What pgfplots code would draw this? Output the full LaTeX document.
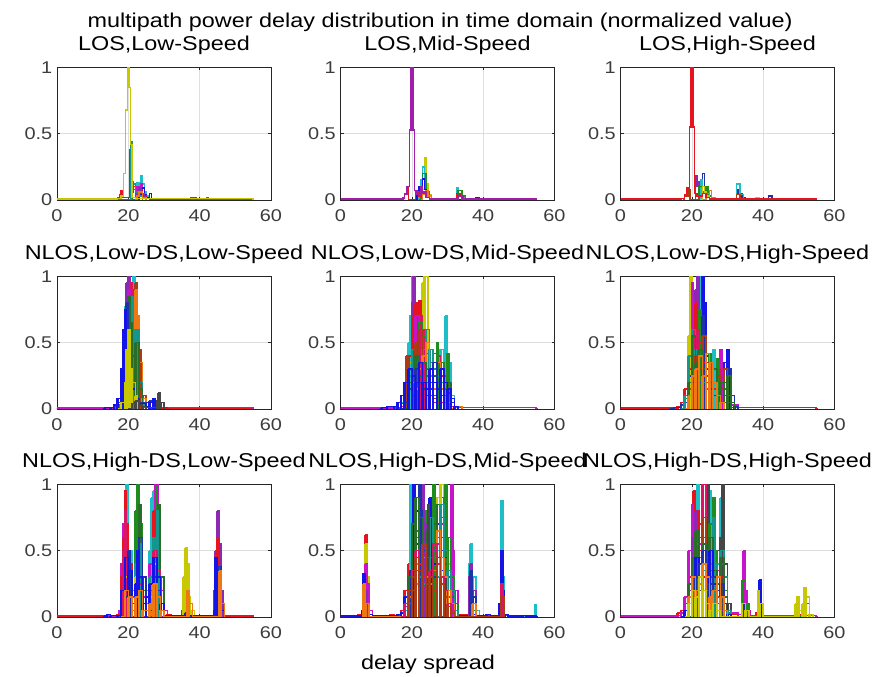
\documentclass[border=0pt]{standalone}
\usepackage{fontspec}
\setmainfont{Liberation Sans}[FakeStretch=1.17]
\usepackage{pgfplots}
\pgfplotsset{compat=1.18}
\definecolor{cR}{RGB}{230,20,30}
\definecolor{cG}{RGB}{30,140,30}
\definecolor{cB}{RGB}{20,20,230}
\definecolor{cC}{RGB}{30,190,200}
\definecolor{cM}{RGB}{200,20,200}
\definecolor{cY}{RGB}{200,200,0}
\definecolor{cP}{RGB}{140,40,180}
\definecolor{cBr}{RGB}{170,60,20}
\definecolor{cO}{RGB}{240,120,20}
\definecolor{cK}{RGB}{220,20,100}
\definecolor{cT}{RGB}{20,150,140}
\definecolor{cD}{RGB}{70,70,70}
\definecolor{cN}{RGB}{30,50,170}
\definecolor{cDG}{RGB}{40,110,40}
\definecolor{cLP}{RGB}{160,30,170}
\definecolor{axc}{RGB}{38,38,38}
\definecolor{tkc}{RGB}{60,60,60}
\definecolor{grc}{RGB}{222,222,222}
\newcommand{\pl}[2]{\addplot[#1, const plot, line width=1.5pt] coordinates {#2};}
\newcommand{\pn}[2]{\addplot[#1, ycomb, line width=2.5pt] coordinates {#2};
  \addplot[#1, const plot, line width=1.5pt] coordinates {#2};}
\pgfplotsset{
  sub/.style={scale only axis, width=214pt, height=132.5pt,
    xmin=0, xmax=60, ymin=0, ymax=1,
    xtick={0,20,40,60}, ytick={0,0.5,1},
    grid=major, major grid style={draw=grc, line width=0.5pt},
    axis line style={draw=axc, line width=0.8pt},
    tick style={draw=axc, line width=0.6pt}, major tick length=3pt,
    ticklabel style={text=tkc, font=\fontsize{17}{19}\selectfont},
    xticklabel style={anchor=north, inner sep=0pt, yshift=-9pt},
    yticklabel style={anchor=east, inner sep=0pt, xshift=-4.5pt},
    title style={font=\fontsize{20}{22}\selectfont, anchor=base, at={(0.5,1)}, yshift=11pt, inner sep=0pt},
    /pgf/number format/assume math mode=true,
    no markers,
    every axis plot/.append style={line join=miter},
  },
}
\begin{document}
\begin{tikzpicture}[x=1pt,y=1pt]
\path[use as bounding box] (0,0) rectangle (876,677);
\node[font=\fontsize{20}{22}\selectfont, anchor=base] at (440,649) {multipath power delay distribution in time domain (normalized value)};
\node[font=\fontsize{20}{22}\selectfont, anchor=base] at (428,7) {delay spread};

% ---------- Row 1 ----------
\begin{axis}[sub, at={(57pt,477pt)}, anchor=south west, title={LOS,Low-Speed}]
\pl{cG}{(0,0.008)(2,0.008)(3,0.004)(20.5,0.004)(21,0.14)(21.5,0.08)(22,0.11)(22.5,0.05)(23,0.07)(23.5,0.03)(24,0.05)(25,0.02)(26,0.01)(27,0.004)(42,0.02)(42.5,0.004)(55,0.004)}
\pl{cC}{(21,0)(22,0.08)(22.5,0.13)(23,0.1)(23.5,0.18)(24,0.12)(24.5,0.06)(25,0.03)(26,0)}
\pl{cM}{(21.5,0)(22,0.05)(22.5,0.1)(23,0.07)(23.5,0.12)(24,0.04)(25,0)}
\pl{cB}{(22,0)(23,0.06)(23.5,0.03)(24,0.09)(24.5,0.04)(25,0.02)(26,0.05)(26.5,0)}
\pl{cR}{(16.5,0)(17,0.02)(17.5,0.04)(18,0.07)(18.5,0.02)(20.5,0.38)(21,0.06)(21.5,0.1)(22,0.04)(23,0.08)(24,0.03)(25,0.01)(26,0)(37.5,0.02)(39,0)}
\pl{cT}{(20.6,0)(20.7,0.44)(21,0.12)(22,0.06)(23,0.03)(24,0)}
\pl{cP}{(21,0)(22,0.04)(23,0.09)(23.5,0.05)(24.5,0.02)(25,0)}
\pl{cO}{(22,0)(22.5,0.03)(23,0.06)(24,0.02)(25,0)}
\pl{cY, line width=1.7pt}{(0,0.008)(17,0.01)(18,0.03)(18.6,0.2)(19.2,0.68)(19.7,1.0)(20.2,0.85)(20.6,0.42)(21,0.02)(22,0.01)(55,0.008)(55,0)}
\end{axis}

\begin{axis}[sub, at={(340.5pt,477pt)}, anchor=south west, title={LOS,Mid-Speed}]
\pl{cY}{(22,0)(23,0.08)(23.5,0.32)(24,0.12)(24.5,0.04)(25.5,0)}
\pl{cC}{(21.5,0)(22,0.06)(22.5,0.15)(23,0.25)(23.5,0.1)(24,0.04)(25,0)(32.5,0)(32.5,0.09)(33,0.05)(34,0.02)(35,0)}
\pl{cG}{(22,0)(22.5,0.1)(23,0.2)(24,0.06)(25,0)(33,0.07)(34,0.03)(35,0)}
\pl{cB}{(21,0)(21.5,0.05)(22,0.1)(23,0.16)(23.5,0.08)(24,0.03)(25,0)(38,0.015)(39,0)}
\pl{cR}{(17,0)(17.5,0.02)(18,0.05)(18.5,0.09)(19,0)(21,0.06)(22,0.03)(23,0.05)(24,0.03)(25,0.01)(26,0)(32.5,0.05)(33.5,0.03)(34.5,0)}
\pl{cO}{(22.5,0)(23,0.04)(24,0.07)(24.5,0.03)(25.5,0)}
\pl{cLP, line width=1.8pt}{(0,0.008)(17,0.01)(18,0.04)(18.7,0.1)(19.3,0.53)(19.7,1.0)(20.3,0.53)(20.7,0.07)(21.5,0.04)(22.5,0.1)(23,0.06)(24,0.02)(25,0.008)(33,0.03)(34,0.008)(55,0.008)(55,0)}
\end{axis}

\begin{axis}[sub, at={(620.5pt,477pt)}, anchor=south west, title={LOS,High-Speed}]
\pl{cP}{(20.5,0)(21,0.18)(21.5,0.1)(22,0.14)(23,0.06)(24,0.02)(25,0)}
\pl{cN}{(21.5,0)(22,0.08)(22.5,0.12)(23,0.2)(23.5,0.1)(24,0.05)(25,0)(32.5,0.08)(33,0.05)(34,0.02)(35,0)(41.5,0.03)(42.5,0)}
\pl{cC}{(22,0)(22.5,0.15)(23,0.1)(24,0.05)(25,0)(32.5,0)(32.5,0.12)(33.5,0.04)(34.5,0)}
\pl{cG}{(21,0)(22,0.1)(23,0.06)(24,0.1)(24.5,0.03)(25.5,0)}
\pl{cY}{(22,0)(23,0.1)(23.5,0.06)(24,0.03)(25,0)(38,0.02)(39,0)}
\pl{cO}{(23,0)(24,0.05)(25,0.07)(25.5,0.02)(26.5,0)}
\pl{cBr}{(17.5,0)(18,0.03)(19,0.08)(19.5,0)(22,0.03)(23,0.05)(24,0.02)(25,0)(32.5,0.04)(33.5,0)}
\pl{cR, line width=1.8pt}{(0,0.008)(17,0.01)(18,0.04)(18.7,0.09)(19.3,0.55)(19.7,1.0)(20.3,0.55)(20.7,0.05)(21.5,0.03)(23,0.05)(24,0.02)(25,0.008)(55,0.008)(55,0)}
\end{axis}

% ---------- Row 2 ----------
\begin{axis}[sub, at={(57pt,268pt)}, anchor=south west, title={NLOS,Low-DS,Low-Speed}]
\pn{cR}{(0,0.008)(16,0.02)(17,0.05)(18,0.15)(19,0.4)(20,0.7)(21,0.95)(21.5,1.0)(22,0.85)(22.5,0.5)(23,0.2)(24,0.05)(25,0.01)(26,0.008)(55,0.008)(55,0)}
\pn{cG}{(16,0)(17,0.02)(18,0.12)(19,0.5)(19.5,0.8)(20,1.0)(20.5,0.75)(21,0.6)(22,0.55)(22.5,0.4)(23,0.3)(23.5,0.12)(24,0.04)(25,0.01)(28,0.05)(29,0.01)(30,0)}
\pn{cP}{(16,0)(17,0.03)(18,0.2)(18.5,0.45)(19,0.65)(19.5,0.95)(20,1.0)(20.5,0.6)(21,0.35)(21.5,0.2)(22,0.1)(23,0.03)(24,0)}
\pn{cC}{(17,0)(18,0.2)(18.5,0.5)(19,0.77)(19.5,0.6)(20,0.4)(21,0.9)(21.5,1.0)(22,0.7)(22.5,0.55)(23,0.25)(24,0.05)(25,0)}
\pn{cBr}{(18,0)(19,0.1)(19.5,0.2)(20,0.35)(20.5,0.6)(21,0.8)(21.5,0.9)(22,0.95)(22.5,0.6)(23,0.45)(23.5,0.25)(24,0.1)(25,0.02)(26,0)}
\pn{cK}{(17,0)(18,0.1)(18.5,0.3)(19,0.5)(19.5,0.75)(20,0.6)(20.5,0.95)(21,0.7)(21.5,0.45)(22,0.3)(23,0.1)(24,0)}
\pn{cM}{(0,0.008)(17,0.01)(18,0.08)(19,0.3)(19.5,0.6)(20,0.9)(20.5,0.5)(21,0.3)(22,0.15)(23,0.05)(24,0.01)(55,0.008)(55,0)}
\pn{cO}{(18,0)(19,0.15)(20,0.3)(21,0.5)(21.5,0.8)(22,0.9)(22.5,0.7)(23,0.35)(24,0.08)(25,0)}
\pn{cT}{(18,0)(19,0.3)(19.5,0.4)(20,0.5)(20.5,0.7)(21,0.85)(21.5,0.6)(22,0.45)(22.5,0.6)(23,0.2)(24,0.03)(25,0)}
\pn{cDG}{(18,0)(18.5,0.25)(19,0.45)(20,0.85)(20.5,0.65)(21,0.4)(22,0.5)(23,0.15)(24,0)}
\pn{cN}{(17.5,0)(18,0.1)(19,0.35)(19.5,0.8)(20,0.45)(20.5,0.25)(21,0.15)(22,0.08)(23,0.05)(26,0.06)(27,0.02)(28,0)}
\pn{cB}{(13,0)(13.5,0.01)(15,0.01)(16,0.03)(17,0.08)(18,0.3)(18.5,0.6)(19,0.75)(19.5,0.55)(20,0.3)(21,0.15)(22,0.08)(23,0.04)(25,0.02)(26,0.05)(27,0.08)(27.5,0.03)(28,0)}
\pn{cY}{(17,0)(18,0.05)(19,0.2)(19.5,0.45)(20,0.6)(20.5,0.3)(21,0.2)(22,0.1)(22.5,0.05)(23,0)}
\pn{cD}{(20,0)(21,0.04)(22,0.06)(23,0.03)(24,0.02)(25,0.01)(28,0.06)(28.5,0.12)(29,0.05)(30,0.01)(31,0)}
\end{axis}

\begin{axis}[sub, at={(340.5pt,268pt)}, anchor=south west, title={NLOS,Low-DS,Mid-Speed}]
\pn{cC}{(16,0)(17,0.05)(18,0.2)(19,0.5)(19.5,0.7)(20,1.0)(20.5,0.6)(21,0.45)(22,0.3)(23,0.25)(24,0.4)(25,0.35)(26,0.25)(27,0.3)(28,0.45)(29,0.3)(29.5,0.7)(30,0.35)(31,0.1)(32,0.02)(33,0)}
\pn{cP}{(17,0)(18,0.1)(19,0.3)(20,0.8)(20.5,1.0)(21,0.7)(21.5,0.55)(22,0.4)(23,0.3)(24,0.2)(25,0.1)(26,0.05)(27,0)}
\pn{cY}{(18,0)(19,0.35)(20,0.5)(21,0.6)(22,0.5)(22.5,0.8)(23,0.95)(23.5,1.0)(24.5,0.5)(25,0.3)(26,0.2)(27,0.1)(28,0.05)(29,0)}
\pn{cR}{(0,0.008)(15,0.01)(17,0.04)(18,0.15)(19,0.4)(20,0.6)(20.5,0.7)(21,0.8)(21.5,0.6)(22,0.82)(22.5,0.7)(23,0.5)(24,0.3)(25,0.2)(26,0.15)(27,0.1)(28,0.2)(29,0.15)(30,0.1)(31,0.05)(32,0.02)(33,0.01)(55,0.008)(55,0)}
\pn{cK}{(17,0)(18,0.1)(19,0.2)(20,0.45)(21,0.6)(22,0.5)(22.5,0.7)(23,0.6)(23.5,0.45)(24,0.3)(25,0.1)(26,0.2)(27,0.4)(28,0.25)(29,0.15)(30,0.05)(31,0)}
\pn{cM}{(0,0.008)(17,0.02)(18,0.1)(19,0.25)(20,0.3)(21,0.7)(22,0.4)(23,0.3)(24,0.2)(25,0.15)(26,0.1)(28,0.05)(30,0.02)(32,0.01)(55,0.008)(55,0)}
\pn{cG}{(17,0)(18,0.08)(19,0.2)(20,0.35)(21,0.5)(22,0.65)(23,0.55)(24,0.42)(25,0.35)(26,0.42)(27,0.5)(27.5,0.3)(28,0.35)(29,0.25)(30,0.42)(30.5,0.2)(31,0.05)(32,0)}
\pn{cT}{(18,0)(19,0.25)(20,0.45)(21,0.35)(22,0.3)(23,0.45)(24,0.6)(25,0.45)(26,0.3)(27,0.25)(28,0.2)(29,0.1)(30,0.05)(31,0)}
\pn{cBr}{(18,0)(18.5,0.4)(19,0.3)(20,0.2)(21,0.5)(22,0.6)(23,0.4)(24,0.25)(25,0.15)(26,0.08)(27,0.05)(28,0)}
\pn{cO}{(18,0)(19,0.1)(20,0.2)(21,0.15)(22,0.3)(23,0.4)(24,0.5)(25,0.25)(26,0.15)(27,0.35)(28,0.15)(29,0.1)(30,0.05)(31,0)(32,0.02)(34,0)}
\pn{cDG}{(18,0)(19,0.15)(20,0.3)(21,0.4)(22,0.25)(23,0.35)(24,0.2)(25,0.3)(26,0.25)(27,0.15)(28,0.3)(29,0.1)(30,0.2)(31,0.05)(32,0)}
\pn{cN}{(17,0)(18,0.05)(19,0.15)(20,0.1)(21,0.3)(22,0.2)(23,0.15)(24,0.1)(25,0.15)(26,0.35)(27,0.2)(28,0.1)(29,0.2)(30,0.12)(31,0.05)(32,0)}
\pn{cB}{(11,0)(11.5,0.01)(13,0.02)(15,0.02)(16,0.05)(17,0.1)(18,0.2)(19,0.3)(20,0.25)(21,0.2)(22,0.35)(23,0.2)(24,0.15)(25,0.3)(26,0.2)(27,0.15)(28,0.3)(29,0.2)(30,0.15)(31,0.08)(32,0.02)(33,0)}
\end{axis}

\begin{axis}[sub, at={(620.5pt,268pt)}, anchor=south west, title={NLOS,Low-DS,High-Speed}]
\pn{cY}{(17,0)(18,0.1)(19,0.55)(19.5,1.0)(20,0.7)(21,0.5)(22,0.35)(23,0.3)(24,0.2)(25,0.1)(26,0)}
\pn{cC}{(17,0)(18,0.05)(19,0.2)(20,0.5)(21,0.7)(22,0.8)(22.5,1.0)(23,0.6)(24,0.3)(25,0.2)(26,0.45)(26.5,0.2)(27,0.1)(28,0)}
\pn{cB}{(18,0)(19,0.1)(20,0.3)(21,0.6)(22,0.7)(23,1.0)(23.5,0.8)(24,0.4)(25,0.2)(26,0.1)(27,0.2)(28,0.25)(29,0.35)(30,0.45)(30.5,0.2)(31,0.05)(32,0)}
\pn{cP}{(17,0)(18,0.05)(19,0.15)(20,0.5)(21,0.9)(21.5,1.0)(22,0.7)(23,0.5)(24,0.3)(25,0.2)(26,0.1)(27,0.05)(28,0)}
\pn{cM}{(0,0.008)(16,0.01)(17,0.03)(18,0.1)(19,0.3)(20,0.95)(20.5,0.8)(21,0.5)(22,0.35)(23,0.3)(24,0.2)(25,0.25)(26,0.3)(27,0.2)(28,0.45)(28.5,0.3)(29,0.15)(30,0.1)(31,0.03)(33,0.01)(55,0.008)(55,0)}
\pn{cR}{(0,0.008)(14,0.01)(16,0.02)(17,0.05)(18,0.15)(19,0.3)(20,0.5)(21,0.8)(21.5,0.65)(22,0.5)(23,0.4)(24,0.25)(25,0.15)(26,0.1)(27,0.15)(28,0.2)(29,0.1)(30,0.05)(31,0.01)(55,0.008)(55,0)}
\pn{cG}{(17,0)(18,0.08)(19,0.2)(20,0.4)(21,0.55)(22,0.75)(22.5,0.6)(23,0.4)(24,0.25)(25,0.42)(25.5,0.3)(26,0.15)(27,0.38)(27.5,0.2)(28,0.1)(29,0.05)(30,0)}
\pn{cN}{(14,0)(15,0.01)(17,0.03)(18,0.05)(19,0.25)(20,0.2)(21,0.35)(22,0.2)(23,0.7)(23.5,0.5)(24,0.3)(25,0.15)(26,0.1)(28,0.05)(29,0.2)(30,0.3)(31,0.1)(32,0.02)(33,0)}
\pn{cK}{(18,0)(19,0.2)(20,0.4)(21,0.6)(22,0.5)(23,0.35)(24,0.2)(25,0.3)(26,0.15)(27,0.1)(28,0.3)(29,0.2)(30,0.1)(31,0)}
\pn{cT}{(17,0)(18,0.1)(19,0.4)(20,0.6)(21,0.45)(22,0.3)(23,0.2)(24,0.15)(25,0.1)(26,0.2)(27,0.1)(28,0.05)(29,0)}
\pn{cBr}{(18,0)(19,0.15)(20,0.35)(21,0.4)(22,0.3)(23,0.55)(24,0.35)(25,0.2)(26,0.15)(27,0.25)(28,0.15)(29,0.3)(30,0.1)(31,0)}
\pn{cDG}{(18,0)(19,0.2)(20,0.55)(21,0.35)(22,0.45)(23,0.3)(24,0.25)(25,0.2)(26,0.3)(27,0.15)(28,0.2)(29,0.1)(30,0.25)(31,0.05)(32,0)}
\pn{cO}{(18,0)(19,0.1)(20,0.25)(21,0.3)(22,0.4)(23,0.25)(24,0.42)(25,0.35)(26,0.2)(27,0.1)(28,0.05)(29,0)}
\end{axis}

% ---------- Row 3 ----------
\begin{axis}[sub, at={(57pt,60pt)}, anchor=south west, title={NLOS,High-DS,Low-Speed}]
\pn{cG}{(17,0)(18,0.2)(19,0.5)(20,0.3)(21,0.15)(22,0.8)(22.5,1.0)(23,0.7)(24,0.2)(25,0.1)(26,0.2)(27,0.5)(28,1.0)(28.5,0.7)(29,0.2)(30,0.01)(35,0.01)(36,0.05)(37,0.01)(44,0.01)(45,0.05)(46,0)}
\pn{cC}{(18,0)(19,0.6)(19.5,1.0)(20,0.5)(21,0.2)(22,0.1)(23,0.3)(24,0.1)(25,0.2)(26,0.5)(26.5,0.9)(27,0.95)(27.5,0.6)(28,0.4)(29,0.1)(30,0)(35,0)(35.5,0.2)(36,0.45)(36.5,0.35)(37,0.1)(38,0)(44,0)(44.5,0.1)(45,0.25)(45.5,0.1)(46,0)}
\pn{cM}{(0,0.008)(17,0.01)(17.5,0.05)(18,0.4)(18.5,0.7)(19,0.9)(19.5,0.6)(20,0.3)(21,0.1)(22,0.2)(23,0.3)(24,0.15)(25,0.1)(26,0.4)(27,0.7)(27.5,1.0)(28.5,0.6)(29,0.2)(30,0.05)(31,0.008)(44,0.008)(44.5,0.3)(45,0.7)(45.5,0.4)(46,0.1)(47,0.008)(55,0.008)(55,0)}
\pn{cP}{(17,0)(18,0.1)(19,0.3)(19.5,0.5)(20,0.2)(21,0)(26,0)(27,0.2)(28,0.1)(29,0)(43.5,0)(44,0.1)(44.5,0.5)(45,0.8)(45.5,0.55)(46,0.2)(46.5,0.05)(47,0)}
\pn{cR}{(0,0.008)(13,0.01)(14,0.02)(15,0.01)(17,0.02)(18,0.3)(18.5,0.6)(19,0.95)(19.5,0.7)(20,0.4)(21,0.1)(22,0.4)(23,0.6)(23.5,0.2)(24,0.1)(25,0.05)(26,0.3)(27,0.8)(27.5,0.5)(28,0.3)(29,0.05)(30,0.01)(31,0.02)(32,0.01)(35,0.05)(36,0.15)(36.5,0.1)(37,0.02)(38,0.008)(43,0.01)(44,0.2)(45,0.6)(45.5,0.3)(46,0.05)(47,0.008)(55,0.008)(55,0)}
\pn{cDG}{(22,0)(23,0.85)(23.5,0.4)(24,0.1)(25,0)(28,0)(28.5,0.85)(29,0.3)(30,0)}
\pn{cT}{(18,0)(19,0.4)(20,0.25)(21,0.1)(22,0.4)(23,0.55)(23.5,0.2)(24,0.1)(26,0.3)(27,0.6)(27.5,0.4)(28,0.8)(28.5,0.3)(29,0.05)(30,0)(35.5,0)(36,0.3)(37,0.1)(38,0)}
\pn{cK}{(17,0)(18,0.15)(18.5,0.5)(19,0.8)(19.5,0.45)(20,0.2)(21,0.05)(22,0.3)(22.5,0.45)(23,0.25)(24,0.05)(26,0.2)(27,0.5)(28,0.35)(29,0.1)(30,0)(36,0.05)(37,0)(45,0.1)(45.5,0.05)(46,0)}
\pn{cY}{(18,0)(19,0.3)(20,0.2)(21,0.1)(22,0.3)(23,0.2)(24,0.05)(26,0.15)(27,0.4)(28,0.2)(29,0.05)(30,0)(35,0)(35.5,0.3)(36,0.52)(36.5,0.4)(37,0.15)(37.5,0.05)(38.5,0)}
\pn{cN}{(18,0)(19,0.15)(20,0.5)(20.5,0.3)(21,0.05)(23,0.6)(24,0.3)(25,0.05)(27,0.3)(28,0.2)(29,0.05)(30,0)(44,0)(45,0.38)(46,0.1)(47,0)}
\pn{cB}{(13,0)(13.5,0.01)(14,0.02)(15,0.01)(17,0.01)(18,0.2)(19,0.45)(20,0.35)(21,0.1)(22,0.25)(22.5,0.5)(23,0.3)(24,0.1)(25,0.15)(26,0.25)(27,0.45)(28,0.3)(29,0.1)(30,0.01)(36,0.03)(37,0.01)(44,0.05)(44.5,0.45)(45,0.3)(45.5,0.15)(46,0.05)(47,0)}
\pn{cO}{(18,0)(19,0.2)(20,0.15)(21,0.05)(22,0.15)(23,0.2)(24,0.05)(26,0.1)(27,0.25)(28,0.15)(29,0.05)(30,0)(36,0)(36.5,0.2)(37,0.1)(38,0)(45,0)(45.5,0.35)(46,0.1)(47,0)}
\end{axis}

\begin{axis}[sub, at={(340.5pt,60pt)}, anchor=south west, title={NLOS,High-DS,Mid-Speed}]
\pn{cR}{(0,0.008)(4,0.01)(5,0.02)(6,0.01)(6.5,0.3)(7,0.62)(7.5,0.2)(8,0.05)(9,0.01)(14,0.02)(15,0.01)(17,0.05)(18,0.2)(19,0.4)(20,0.6)(21,0.8)(22,0.5)(23,0.7)(24,0.4)(25,0.6)(26,0.3)(27,0.5)(28,0.9)(29,0.6)(30,0.4)(31,0.2)(32,0.1)(33,0.02)(35,0.02)(36,0.3)(36.5,0.5)(37,0.3)(38,0.05)(39,0.01)(44.5,0.05)(45,0.28)(45.5,0.1)(46,0.01)(55,0.008)(55,0)}
\pn{cY}{(6,0)(6.5,0.2)(7,0.55)(7.5,0.3)(8,0.05)(9,0)(17,0)(18,0.1)(19,0.3)(20,0.45)(21,0.55)(22,0.7)(23,0.6)(24,0.8)(25,0.9)(26,0.6)(27,0.9)(28,1.0)(29,0.7)(30,0.4)(31,0.2)(32,0.05)(33,0)}
\pn{cC}{(17,0)(18,0.05)(19,0.15)(19.5,1.0)(20,0.6)(21,0.4)(22,0.3)(23,0.25)(24,0.4)(25,0.5)(26,0.35)(27,0.5)(28,0.6)(29,0.7)(30,0.5)(31,0.3)(32,0.1)(33,0)(35.5,0)(36,0.4)(36.5,0.55)(37,0.3)(38,0.05)(39,0)(44.5,0)(45,0.88)(45.5,0.3)(46,0.02)(47,0)(54,0)(54.5,0.09)(55,0)}
\pn{cM}{(6,0)(6.5,0.15)(7,0.4)(7.5,0.25)(8,0.05)(9,0)(18,0)(19,0.25)(20,0.4)(21,0.6)(22,0.5)(23,0.4)(24,0.75)(25,0.5)(26,0.4)(27,0.55)(28,0.7)(29,0.5)(30,0.6)(31,1.0)(31.5,0.5)(32,0.2)(33,0)(44.5,0)(45,0.2)(45.5,0.05)(46,0)}
\pn{cG}{(17,0)(18,0.1)(19,0.25)(20,0.5)(21,0.65)(22,0.55)(23,0.8)(24,0.6)(25,0.7)(26,1.0)(26.5,0.8)(27,0.6)(28,0.75)(29,0.9)(29.5,1.0)(30,0.6)(31,0.3)(32,0.1)(33,0)(36,0)(36.5,0.1)(37,0.05)(38,0)}
\pn{cB}{(0,0.008)(5,0.008)(6,0.05)(6.5,0.33)(7,0.2)(7.5,0.1)(8,0.02)(9,0.008)(12,0.01)(16,0.02)(17,0.03)(18,0.15)(19,0.3)(20,0.5)(20.5,1.0)(21,0.8)(22,0.6)(23,0.5)(24,0.7)(25,0.9)(25.5,0.55)(26,0.4)(27,0.3)(28,0.35)(29,0.45)(30,0.3)(31,0.15)(32,0.05)(33,0.01)(36,0.01)(37,0.02)(38,0.008)(41,0.02)(42,0.01)(44.5,0.1)(45,0.5)(45.5,0.2)(46,0.02)(47,0.008)(51,0.01)(52,0.008)(55,0.008)(55,0)}
\pn{cP}{(6,0)(6.5,0.1)(7,0.2)(7.5,0.05)(8,0)(17,0)(18,0.08)(19,0.2)(20,0.35)(21,0.45)(22,0.65)(23,1.0)(23.5,0.7)(24,0.5)(25,0.35)(26,0.5)(27,0.4)(28,0.3)(29,0.25)(30,0.15)(31,0.1)(32,0)(35.5,0)(36,0.3)(36.5,0.4)(37,0.2)(38,0)}
\pn{cN}{(17,0)(18,0.1)(19,0.2)(19.5,0.35)(20,0.2)(21,0.55)(22,1.0)(22.5,0.8)(23,0.5)(24,0.3)(25,0.45)(26,0.3)(27,0.7)(28,0.5)(29,0.3)(30,0.2)(31,0.1)(32,0)(36,0)(36.5,0.35)(37,0.15)(38,0)}
\pn{cDG}{(18,0)(19,0.3)(20,0.7)(21,0.9)(22,0.75)(23,0.55)(24,0.65)(25,0.45)(26,0.7)(27,0.85)(28,0.6)(29,0.4)(30,0.3)(31,0.15)(32,0)}
\pn{cT}{(18,0)(19,0.1)(20,0.2)(21,0.35)(22,0.3)(23,0.25)(24,0.55)(25,0.75)(26,0.45)(27,0.3)(28,0.85)(29,0.5)(30,0.35)(31,0.2)(32,0.05)(33,0)}
\pn{cD}{(24,0)(24.5,0.85)(25,0.3)(26,0)(29,0)(29.5,0.3)(30,0.1)(31,0)}
\pn{cO}{(6,0)(6.5,0.25)(7,0.1)(8,0)(18,0)(19,0.15)(20,0.3)(21,0.25)(22,0.35)(23,0.45)(24,0.3)(25,0.25)(26,0.35)(27,0.65)(28,0.45)(29,0.3)(30,0.2)(31,0.1)(32,0)(36,0)(37,0.1)(38,0)}
\pn{cK}{(17,0)(18,0.1)(19,0.2)(20,0.35)(21,0.5)(22,0.4)(23,0.3)(24,0.45)(25,0.35)(26,0.55)(27,0.4)(28,0.3)(29,0.2)(30,0.1)(31,0.05)(32,0)(44.5,0)(45,0.25)(45.5,0.1)(46,0)}
\pn{cBr}{(18,0)(19,0.2)(20,0.3)(21,0.45)(22,0.35)(23,0.55)(24,0.25)(25,0.3)(26,0.2)(27,0.45)(28,0.25)(29,0.15)(30,0.08)(31,0.03)(32,0)(44.5,0)(45,0.15)(46,0)}
\end{axis}

\begin{axis}[sub, at={(620.5pt,60pt)}, anchor=south west, title={NLOS,High-DS,High-Speed}]
\pn{cC}{(18,0)(19,0.1)(20,0.4)(21,0.8)(21.5,1.0)(22,0.6)(23,0.4)(24,0.5)(25,0.95)(25.5,0.6)(26,0.3)(27,0.4)(28,0.9)(28.5,0.4)(29,0.15)(30,0.05)(31,0)(34,0)(34.5,0.15)(35,0.05)(36,0)}
\pn{cK}{(18,0)(19,0.2)(20,0.5)(21,0.4)(22,0.7)(23,1.0)(24,0.85)(24.5,0.5)(25,0.3)(26,0.2)(27,0.35)(28,0.2)(29,0.1)(30,0)}
\pn{cD}{(20,0)(21,0.1)(22,0.2)(23,0.3)(24,0.5)(24.5,1.0)(25,0.6)(26,0.3)(27,0.5)(28,0.6)(28.5,1.0)(29,0.4)(30,0.1)(31,0)(33,0)(34,0.15)(35,0.05)(36,0)}
\pn{cR}{(0,0.008)(15,0.01)(16,0.03)(17,0.05)(18,0.1)(19,0.3)(20,0.7)(20.5,0.95)(21,0.8)(22,0.5)(23,0.3)(24,0.5)(25,0.3)(26,0.25)(27,0.15)(28,0.3)(29,0.2)(30,0.05)(31,0.02)(33,0.02)(34,0.05)(35,0.03)(36,0.01)(38,0.03)(39,0.01)(49,0.01)(50,0.02)(51,0.01)(55,0.008)(55,0)}
\pn{cM}{(0,0.008)(16,0.01)(17,0.03)(18,0.15)(19,0.5)(20,0.85)(20.5,0.6)(21,0.4)(22,0.55)(23,0.4)(24,0.3)(25,0.25)(26,0.35)(27,0.2)(28,0.15)(29,0.1)(30,0.03)(33,0.02)(34.5,0.5)(35,0.2)(35.5,0.05)(36.5,0.01)(55,0.008)(55,0)}
\pn{cG}{(17,0)(18,0.05)(19,0.2)(20,0.35)(21,0.5)(22,0.4)(23,0.6)(24,0.45)(25,0.7)(26,0.9)(26.5,0.5)(27,0.3)(28,0.4)(29,0.2)(30,0.05)(31,0)(33.5,0)(34,0.27)(35,0.1)(36,0)(38,0)(38.5,0.1)(39,0.05)(40,0)(51,0)(51.5,0.15)(52,0.1)(53,0)}
\pn{cP}{(18,0)(19,0.2)(20,0.6)(21,0.8)(21.5,0.5)(22,0.3)(23,0.4)(24,0.25)(25,0.2)(26,0.15)(27,0.1)(28,0.05)(29,0)}
\pn{cBr}{(19,0)(20,0.2)(21,0.35)(22,0.6)(23,0.75)(24,0.5)(25,0.35)(26,0.25)(27,0.15)(28,0.1)(29,0.05)(30,0)}
\pn{cT}{(19,0)(20,0.3)(21,0.55)(22,0.45)(23,0.35)(24,0.2)(25,0.4)(26,0.75)(26.5,0.4)(27,0.2)(28,0.5)(29,0.3)(30,0.05)(31,0)}
\pn{cDG}{(18,0)(19,0.25)(20,0.45)(21,0.65)(22,0.3)(23,0.55)(24,0.4)(25,0.6)(26,0.35)(27,0.25)(28,0.45)(29,0.15)(30,0)}
\pn{cB}{(17,0)(18,0.05)(19,0.15)(20,0.3)(21,0.45)(22,0.3)(23,0.2)(24,0.35)(25,0.5)(26,0.25)(27,0.2)(28,0.15)(29,0.1)(30,0.02)(31,0)(38,0)(38.5,0.2)(39,0.28)(39.5,0.1)(40,0)(49,0)(49.5,0.05)(50,0)}
\pn{cN}{(20,0)(21,0.3)(22,0.4)(23,0.5)(24,0.35)(25,0.25)(26,0.3)(27,0.2)(28,0.25)(29,0.1)(30,0)(34,0)(34.5,0.1)(35,0)(38,0)(39,0.05)(40,0)}
\pn{cO}{(18,0)(19,0.15)(20,0.3)(21,0.2)(22,0.25)(23,0.4)(24,0.3)(25,0.15)(26,0.2)(27,0.3)(28,0.15)(29,0.05)(30,0)}
\pn{cY}{(18,0)(19,0.1)(20,0.2)(21,0.15)(22,0.3)(23,0.2)(24,0.1)(25,0.05)(26,0.1)(27,0.05)(28,0)(33,0)(34,0.1)(35,0.05)(36,0)(38,0)(38.5,0.2)(39,0.1)(40,0)(48.5,0)(49,0.1)(49.5,0.15)(50,0.05)(51,0.1)(51.5,0.22)(52,0.15)(53,0.02)(54,0)}
\end{axis}
\end{tikzpicture}
\end{document}
